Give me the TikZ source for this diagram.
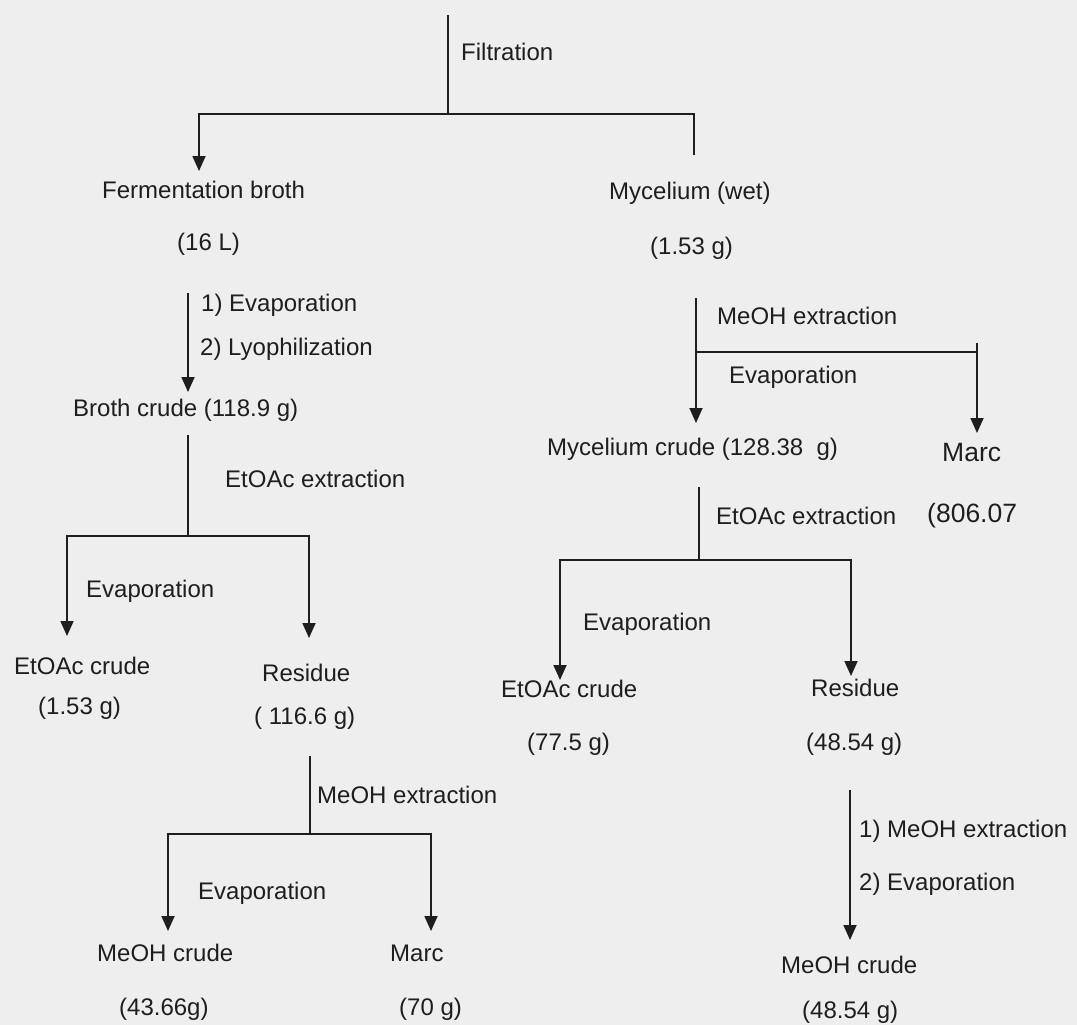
\documentclass[tikz,border=0pt]{standalone}
\usepackage{fontspec}
\setmainfont{Liberation Sans}
\usetikzlibrary{arrows.meta}
\definecolor{bg}{HTML}{EEEEEE}
\definecolor{ink}{HTML}{1E1E1E}
\begin{document}
\begin{tikzpicture}[x=1pt,y=-1pt,
  lbl/.style={anchor=west,inner sep=0pt,font=\fontsize{24}{28}\selectfont,text=ink},
  big/.style={lbl,font=\fontsize{26.5}{30}\selectfont},
  ln/.style={line width=1.8pt,draw=ink},
  arr/.style={ln,-{Triangle[width=13pt,length=15pt]}}]
\fill[bg] (0,0) rectangle (1077,1025);
\useasboundingbox (0,0) rectangle (1077,1025);
% ---------- coordinates ----------
\coordinate (top) at (448,15);
\coordinate (j1) at (448,114);
\coordinate (l1) at (199,114);
\coordinate (l1t) at (199,171);
\coordinate (r1) at (694,114);
\coordinate (r1e) at (694,155);
\coordinate (a2s) at (188,293);
\coordinate (a2t) at (188,392);
\coordinate (a3s) at (188,435);
\coordinate (j3) at (188,536);
\coordinate (l3) at (67,536);
\coordinate (r3) at (309,536);
\coordinate (l3t) at (67,636);
\coordinate (r3t) at (309,638);
\coordinate (a4s) at (310,756);
\coordinate (j4) at (310,834);
\coordinate (l4) at (168,834);
\coordinate (r4) at (431,834);
\coordinate (l4t) at (168,931);
\coordinate (r4t) at (431,931);
\coordinate (b1s) at (696,298);
\coordinate (bj1) at (696,352);
\coordinate (br1) at (977,352);
\coordinate (br1s) at (977,343);
\coordinate (b1t) at (696,423);
\coordinate (br1t) at (977,433);
\coordinate (b2s) at (699,487);
\coordinate (bj2) at (699,560);
\coordinate (bl2) at (560,560);
\coordinate (br2) at (851,560);
\coordinate (bl2t) at (560,680);
\coordinate (br2t) at (851,676);
\coordinate (b3s) at (850,790);
\coordinate (b3t) at (850,940);
% ---------- left branch texts ----------
\node[lbl] (filt) at (461,52) {Filtration};
\node[lbl] (fb) at (102,190) {Fermentation broth};
\node[lbl] (fbq) at (177,244) {(16 L)};
\node[lbl] (ev1) at (201,305) {1) Evaporation};
\node[lbl] (ly) at (200,349) {2) Lyophilization};
\node[lbl] (bc) at (73,410) {Broth crude (118.9 g)};
\node[lbl] (eea) at (225,479) {EtOAc extraction};
\node[lbl] (ev2) at (86,591) {Evaporation};
\node[lbl] (ec) at (14,666) {EtOAc crude};
\node[lbl] (res) at (262,673) {Residue};
\node[lbl] (ecq) at (38,708) {(1.53 g)};
\node[lbl] (resq) at (254,718) {( 116.6 g)};
\node[lbl] (mea) at (317,795) {MeOH extraction};
\node[lbl] (ev3) at (198,893) {Evaporation};
\node[lbl] (mc) at (97,953) {MeOH crude};
\node[lbl] (marc) at (390,953) {Marc};
\node[lbl] (mcq) at (119,1009) {(43.66g)};
\node[lbl] (marcq) at (399,1009) {(70 g)};
% ---------- right branch texts ----------
\node[lbl] (my) at (609,193) {Mycelium (wet)};
\node[lbl] (myq) at (650,248) {(1.53 g)};
\node[lbl] (mea2) at (717,316) {MeOH extraction};
\node[lbl] (ev4) at (729,377) {Evaporation};
\node[lbl] (myc) at (547,449) {Mycelium crude (128.38\ \ g)};
\node[big] (marc2) at (942,453) {Marc};
\node[lbl] (eea2) at (716,516) {EtOAc extraction};
\node[big] (marc2q) at (927,516) {(806.07};
\node[lbl] (ev5) at (583,624) {Evaporation};
\node[lbl] (ec2) at (501,689) {EtOAc crude};
\node[lbl] (res2) at (811,688) {Residue};
\node[lbl] (ec2q) at (527,744) {(77.5 g)};
\node[lbl] (res2q) at (806,744) {(48.54 g)};
\node[lbl] (mea3) at (859,831) {1) MeOH extraction};
\node[lbl] (ev6) at (859,884) {2) Evaporation};
\node[lbl] (mc2) at (781,965) {MeOH crude};
\node[lbl] (mc2q) at (802,1012) {(48.54 g)};
% ---------- connectors ----------
\draw[ln] (top) -- (j1);
\draw[arr] (r1e) -- (r1) -- (l1) -- (l1t);
\draw[arr] (a2s) -- (a2t);
\draw[ln] (a3s) -- (j3);
\draw[arr] (j3) -- (l3) -- (l3t);
\draw[arr] (j3) -- (r3) -- (r3t);
\draw[ln] (a4s) -- (j4);
\draw[arr] (j4) -- (l4) -- (l4t);
\draw[arr] (j4) -- (r4) -- (r4t);
\draw[arr] (b1s) -- (b1t);
\draw[ln] (bj1) -- (br1);
\draw[arr] (br1s) -- (br1t);
\draw[ln] (b2s) -- (bj2);
\draw[arr] (bj2) -- (bl2) -- (bl2t);
\draw[arr] (bj2) -- (br2) -- (br2t);
\draw[arr] (b3s) -- (b3t);
\end{tikzpicture}
\end{document}
